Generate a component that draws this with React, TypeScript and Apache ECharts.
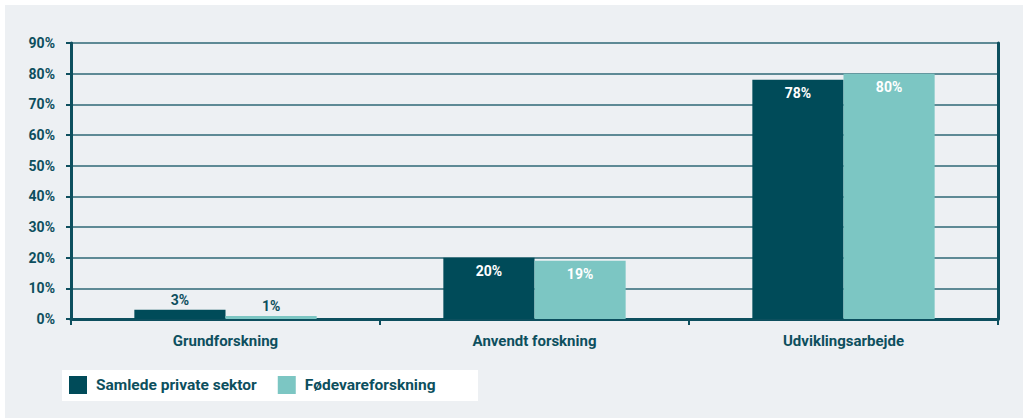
import React, { useEffect, useRef } from "react";
import * as echarts from "echarts";

const categories = ["Grundforskning", "Anvendt forskning", "Udviklingsarbejde"];
const seriesNames = ["Samlede private sektor", "Fødevareforskning"];
const privateValues = [3, 20, 78];
const foodValues = [1, 19, 80];
const yTicks = [0, 10, 20, 30, 40, 50, 60, 70, 80, 90];

const DARK = "#004b59";
const LIGHT = "#7cc6c3";
const TEXT = "#0d4f5e";
const FONT = "Roboto";

function mkData(values: number[]) {
  return values.map((v) => ({
    value: v,
    label:
      v >= 10
        ? { position: "insideTop", color: "#ffffff", distance: 6 }
        : { position: "top", color: TEXT, distance: 3 },
  }));
}

export default function App() {
  const ref = useRef<HTMLDivElement>(null);
  useEffect(() => {
    const chart = echarts.init(ref.current!, null, { renderer: "svg" });
    const labelCommon = {
      show: true,
      formatter: "{c}%",
      fontFamily: FONT,
      fontWeight: "bold",
      fontSize: 14,
    };
    chart.setOption({
      animation: false,
      backgroundColor: "#ffffff",
      textStyle: { fontFamily: FONT },
      graphic: [
        {
          type: "rect",
          z: -10,
          shape: { x: 5, y: 5, width: 1018, height: 413 },
          style: { fill: "#edf0f3" },
          silent: true,
        },
        {
          type: "rect",
          z: -5,
          shape: { x: 62, y: 370, width: 416, height: 31 },
          style: { fill: "#ffffff" },
          silent: true,
        },
      ],
      grid: { left: 71, right: 25, top: 43, bottom: 99, containLabel: false },
      legend: {
        data: seriesNames,
        left: 69,
        top: 376,
        itemWidth: 18,
        itemHeight: 18,
        itemGap: 21,
        icon: "rect",
        padding: 0,
        textStyle: {
          color: TEXT,
          fontFamily: FONT,
          fontWeight: "bold",
          fontSize: 15.5,
          padding: [0, 0, 0, 4],
        },
      },
      xAxis: {
        type: "category",
        data: categories,
        axisLine: { show: true, lineStyle: { color: TEXT, width: 3 } },
        axisTick: { show: true, interval: 0, length: 6, lineStyle: { color: TEXT, width: 2 } },
        axisLabel: {
          color: TEXT,
          fontFamily: FONT,
          fontWeight: "bold",
          fontSize: 15,
          margin: 14,
        },
      },
      yAxis: [
        {
          type: "value",
          min: 0,
          max: 90,
          interval: 10,
          axisLine: { show: true, lineStyle: { color: TEXT, width: 3 } },
          axisTick: { show: true, length: 5, lineStyle: { color: TEXT, width: 2 } },
          axisLabel: {
            color: TEXT,
            fontFamily: FONT,
            fontWeight: "bold",
            fontSize: 14,
            margin: 16,
            formatter: (v: number) => (yTicks.includes(v) ? v + "%" : ""),
          },
          splitLine: { show: true, lineStyle: { color: "#2e6876", width: 1.5 } },
        },
        {
          type: "value",
          position: "right",
          min: 0,
          max: 90,
          interval: 10,
          axisLine: { show: true, lineStyle: { color: TEXT, width: 3 } },
          axisTick: { show: false },
          axisLabel: { show: false },
          splitLine: { show: false },
        },
      ],
      series: [
        {
          name: seriesNames[0],
          type: "bar",
          data: mkData(privateValues),
          itemStyle: { color: DARK },
          barWidth: "29.5%",
          barGap: "0%",
          label: labelCommon,
        },
        {
          name: seriesNames[1],
          type: "bar",
          data: mkData(foodValues),
          itemStyle: { color: LIGHT },
          barWidth: "29.5%",
          barGap: "0%",
          label: labelCommon,
        },
      ],
    });
    return () => chart.dispose();
  }, []);
  return (
    <div
      ref={ref}
      style={{ position: "absolute", left: 0, top: 0, width: 1023, height: 418 }}
    />
  );
}
